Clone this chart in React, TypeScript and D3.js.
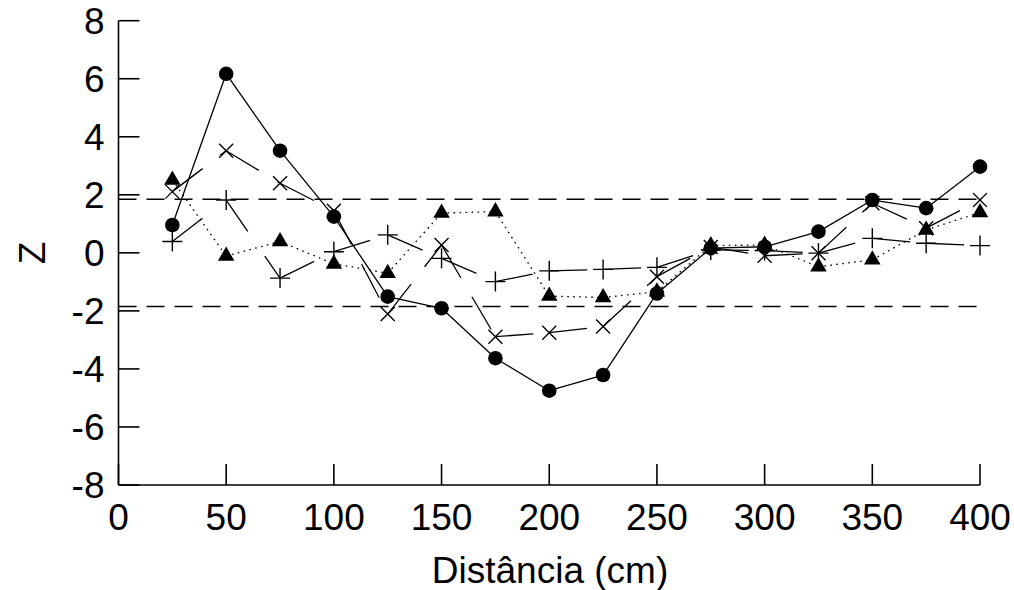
import React from "react";
import * as d3 from "d3";

const distances = [25, 50, 75, 100, 125, 150, 175, 200, 225, 250, 275, 300, 325, 350, 375, 400];
const circleSeries = [0.96, 6.17, 3.52, 1.25, -1.51, -1.91, -3.63, -4.75, -4.21, -1.4, 0.16, 0.21, 0.73, 1.82, 1.54, 2.97];
const timesSeries = [2.11, 3.52, 2.4, 1.45, -2.11, 0.27, -2.89, -2.75, -2.54, -0.82, 0.2, -0.1, -0.01, 1.71, 0.85, 1.82];
const plusSeries = [0.39, 1.82, -0.87, 0.04, 0.62, -0.19, -0.99, -0.62, -0.57, -0.5, 0.1, 0.08, -0.01, 0.5, 0.33, 0.25];
const triangleSeries = [2.51, -0.11, 0.39, -0.38, -0.7, 1.37, 1.42, -1.49, -1.54, -1.34, 0.25, 0.27, -0.48, -0.24, 0.79, 1.39];
const xTicks = [0, 50, 100, 150, 200, 250, 300, 350, 400];
const yTicks = [-8, -6, -4, -2, 0, 2, 4, 6, 8];
const criticalZ = [1.85, -1.85];
const xLabel = "Distância (cm)";
const yLabel = "Z";

const W = 1014;
const H = 590;
const x = d3.scaleLinear().domain([0, 400]).range([118.5, 980]);
const y = d3.scaleLinear().domain([-8, 8]).range([485, 20.7]);
const FONT = "'Liberation Sans', Arial, sans-serif";

type Pt = [number, number];

function segments(vals: number[]): Pt[][] {
  const pts: Pt[] = distances.map((d, i) => [x(d), y(vals[i])]);
  const segs: Pt[][] = [];
  for (let i = 0; i < pts.length - 1; i++) segs.push([pts[i], pts[i + 1]]);
  return segs;
}

const line = d3.line<Pt>();

function Series({ vals, dash }: { vals: number[]; dash?: string }) {
  return (
    <g fill="none" stroke="#000" strokeWidth={1.3}>
      {segments(vals).map((s, i) => (
        <path key={i} d={line(s) || ""} strokeDasharray={dash} />
      ))}
    </g>
  );
}

const circlePath = d3.symbol(d3.symbolCircle, Math.PI * 7.3 * 7.3)() || "";
const trianglePath = d3.symbol(d3.symbolTriangle, 118)() || "";

function plusPath(s: number) {
  return `M${-s},0L${s},0M0,${-s}L0,${s}`;
}
function timesPath(s: number) {
  return `M${-s},${-s}L${s},${s}M${-s},${s}L${s},${-s}`;
}

export default function App() {
  return (
    <svg width={W} height={H} style={{ position: "absolute", left: 0, top: 0, background: "#fff" }}>
      <rect width={W} height={H} fill="#fff" />
      {criticalZ.map((z) => (
        <line key={z} x1={x(0)} x2={x(400)} y1={y(z)} y2={y(z)} stroke="#000" strokeWidth={1.5} strokeDasharray="18,10" />
      ))}
      <g stroke="#000" strokeWidth={1.6}>
        <line x1={x(0)} x2={x(0)} y1={y(8)} y2={y(-8)} />
        <line x1={x(0)} x2={x(400)} y1={y(-8)} y2={y(-8)} />
        {yTicks.map((t) => (
          <line key={t} x1={x(0)} x2={x(0) + 21} y1={y(t)} y2={y(t)} />
        ))}
        {xTicks.map((t) => (
          <line key={t} x1={x(t)} x2={x(t)} y1={y(-8)} y2={y(-8) - 21} />
        ))}
      </g>
      <g fontFamily={FONT} fontSize={37} fill="#000">
        {yTicks.map((t) => (
          <text key={t} x={x(0) - 14} y={y(t) + 13} textAnchor="end">
            {t}
          </text>
        ))}
        {xTicks.map((t) => (
          <text key={t} x={x(t)} y={530} textAnchor="middle">
            {t}
          </text>
        ))}
        <text x={550} y={583} textAnchor="middle">
          {xLabel}
        </text>
        <text transform={`translate(45,${y(0)}) rotate(-90)`} textAnchor="middle">
          {yLabel}
        </text>
      </g>
      <Series vals={circleSeries} />
      <Series vals={timesSeries} dash="38,22" />
      <Series vals={plusSeries} dash="38,30" />
      <Series vals={triangleSeries} dash="1.6,4.4" />
      <g fill="#000">
        {distances.map((d, i) => (
          <path key={"c" + i} d={circlePath} transform={`translate(${x(d)},${y(circleSeries[i])})`} />
        ))}
        {distances.map((d, i) => (
          <path key={"t" + i} d={trianglePath} transform={`translate(${x(d)},${y(triangleSeries[i])})`} />
        ))}
      </g>
      <g fill="none" stroke="#000" strokeWidth={1.4}>
        {distances.map((d, i) => (
          <path key={"x" + i} d={timesPath(7)} transform={`translate(${x(d)},${y(timesSeries[i])})`} />
        ))}
        {distances.map((d, i) => (
          <path key={"p" + i} d={plusPath(10)} transform={`translate(${x(d)},${y(plusSeries[i])})`} />
        ))}
      </g>
    </svg>
  );
}
